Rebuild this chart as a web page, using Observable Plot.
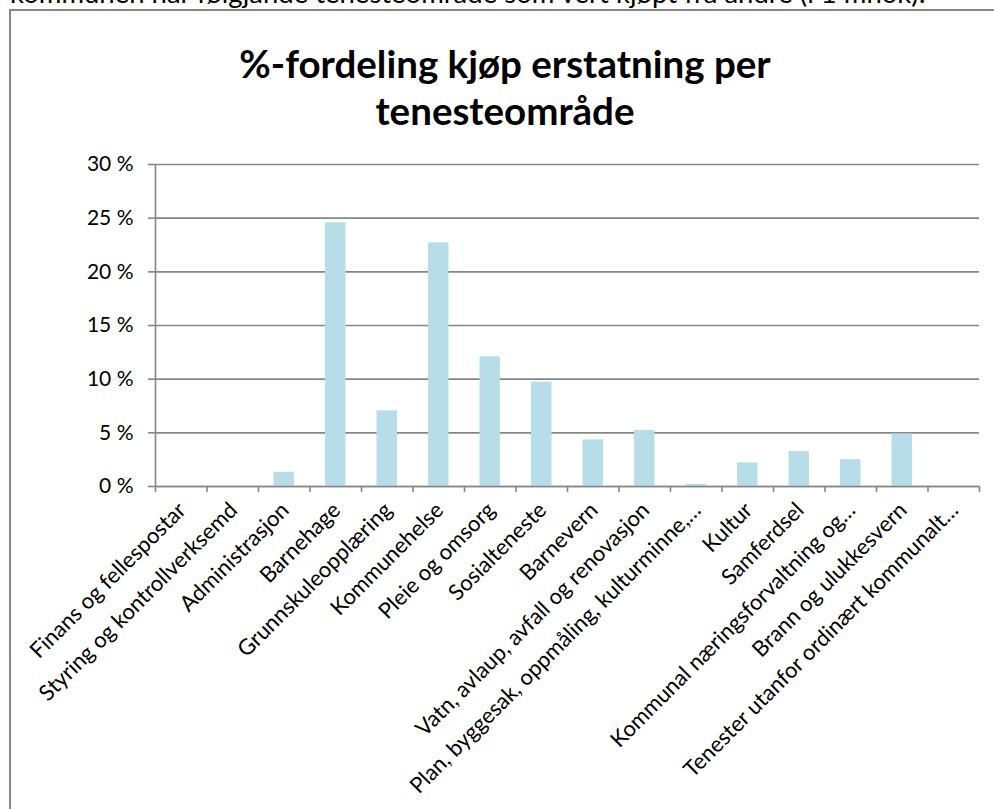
<!DOCTYPE html>
<html>
<head>
<meta charset="utf-8">
<script src="https://cdn.jsdelivr.net/npm/d3@7"></script>
<script src="https://cdn.jsdelivr.net/npm/@observablehq/plot@0.6"></script>
<style>
  html, body { margin: 0; padding: 0; background: #fff; overflow: hidden; }
  #wrap { position: relative; width: 994px; height: 809px; overflow: hidden; font-family: Lato, "Open Sans", sans-serif; }
  #intro { position: absolute; left: 10px; top: -22px; font-size: 27.5px; line-height: 30px; color: #000; white-space: nowrap; }
  #box { position: absolute; left: 9px; top: 9px; width: 1100px; height: 900px; border-left: 2px solid #878787; border-top: 2px solid #878787; }
  #title { position: absolute; left: 0; width: 1010px; top: 40px; text-align: center; font-weight: 700; font-size: 38.5px; line-height: 47px; color: #000; }
  #chart { position: absolute; left: 0; top: 0; }
</style>
</head>
<body>
<div id="wrap">
  <div id="intro">kommunen har følgjande tenesteområde som vert kjøpt frå andre (i 1 mnok):</div>
  <div id="box"></div>
  <div id="title">%-fordeling kjøp erstatning per<br>tenesteområde</div>
  <div id="chart"></div>
</div>
<script>
const categories = [
  "Finans og fellespostar",
  "Styring og kontrollverksemd",
  "Administrasjon",
  "Barnehage",
  "Grunnskuleopplæring",
  "Kommunehelse",
  "Pleie og omsorg",
  "Sosialteneste",
  "Barnevern",
  "Vatn, avlaup, avfall og renovasjon",
  "Plan, byggesak, oppmåling, kulturminne,…",
  "Kultur",
  "Samferdsel",
  "Kommunal næringsforvaltning og…",
  "Brann og ulukkesvern",
  "Tenester utanfor ordinært kommunalt…"
];
const values = [0, 0, 1.33, 24.57, 7.05, 22.7, 12.08, 9.72, 4.35, 5.22, 0.2, 2.2, 3.26, 2.5, 4.9, 0];
const yTicks = [0, 5, 10, 15, 20, 25, 30];

const data = categories.map((label, i) => ({i, label, value: values[i]}));
const grey = "#868686";

const chart = Plot.plot({
  width: 994,
  height: 809,
  marginLeft: 155,
  marginRight: 15,
  marginTop: 164,
  marginBottom: 323,
  style: {fontFamily: "Lato, 'Open Sans', sans-serif", fontSize: "21px", color: "#000", background: "transparent", overflow: "visible"},
  x: {domain: [0, categories.length], axis: null},
  y: {domain: [0, 30], axis: null},
  marks: [
    Plot.gridY(yTicks, {stroke: grey, strokeOpacity: 1, strokeWidth: 1.6}),
    Plot.rectY(data, {x1: "i", x2: d => d.i + 1, y1: 0, y2: "value", fill: "#b7dde8", insetLeft: 15.5, insetRight: 15.5}),
    Plot.ruleY([0], {stroke: grey, strokeWidth: 1.6}),
    Plot.ruleX([0], {y1: 0, y2: 30, stroke: grey, strokeWidth: 1.6}),
    Plot.axisY(yTicks, {label: null, tickFormat: d => d + " %", tickSize: 7, tickPadding: 15, stroke: grey, strokeWidth: 1.6, fill: "#000", fontSize: 21}),
    Plot.axisX(d3.range(categories.length + 1), {label: null, tickSize: 6, tickFormat: () => "", stroke: grey, strokeWidth: 1.6}),
    Plot.text(data, {x: d => d.i + 0.5, y: 0, text: "label", rotate: -45, textAnchor: "end", lineAnchor: "middle", dy: 20, dx: 1, fontSize: 22, fill: "#000"})
  ]
});
document.getElementById("chart").appendChild(chart);
</script>
</body>
</html>
